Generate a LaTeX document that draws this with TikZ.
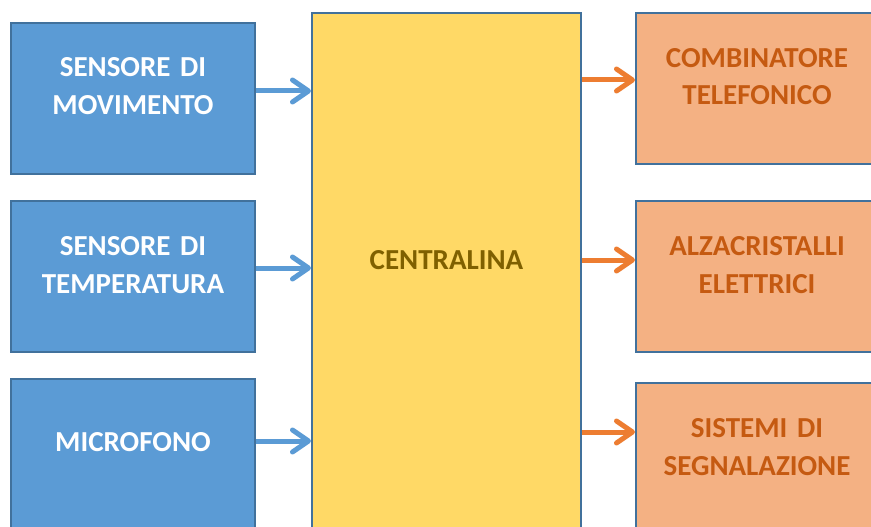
\documentclass[tikz,border=0pt]{standalone}
\usepackage{fontspec}
\setmainfont{Carlito}
\usetikzlibrary{arrows.meta}
\definecolor{inblue}{HTML}{5B9BD5}
\definecolor{edgeblue}{HTML}{41719C}
\definecolor{midyellow}{HTML}{FFD966}
\definecolor{midtext}{HTML}{7F6000}
\definecolor{outorange}{HTML}{F4B183}
\definecolor{outtext}{HTML}{C55A11}
\definecolor{outarrow}{HTML}{ED7D31}
\begin{document}
\begin{tikzpicture}[x=1pt,y=-1pt,font=\fontsize{29}{38}\selectfont\bfseries,
  box/.style={draw=edgeblue,line width=2pt,anchor=north,inner sep=0pt,align=center,text height=54pt,text depth=97pt},
  in node/.style={box,fill=inblue,text=white,text width=244pt},
  out node/.style={box,fill=outorange,text=outtext,text width=242pt},
  mid node/.style={box,fill=midyellow,text=midtext,text width=269pt,text height=256pt,text depth=290pt},
  in arrow/.style={draw=inblue,line width=5pt,-{Straight Barb[round,length=16pt,width=22pt]}},
  out arrow/.style={draw=outarrow,line width=5pt,-{Straight Barb[round,length=16pt,width=22pt]}}]
                    \useasboundingbox[fill=white] (0,0) rectangle (871,527);

                    \node[in node] at (133, 22) (mov) {SENSORE DI\\MOVIMENTO};
                    \node[in node] at (133, 200) (temp) {SENSORE DI\\TEMPERATURA};
                    \node[in node, text height=72pt, text depth=79pt] at (133, 378) (mic) {MICROFONO};
                    \node[mid node] at (446.5, 12) (cen) {CENTRALINA};
                    \node[out node] at (757, 12) (tel) {COMBINATORE\\TELEFONICO};
                    \node[out node] at (757, 200) (alz) {ALZACRISTALLI\\ELETTRICI};
                    \node[out node, text depth=96pt] at (757, 382) (seg) {SISTEMI DI\\SEGNALAZIONE};

                    \draw[in arrow] (mov.east |- 0,91) -- (cen.west |- 0,91);
                    \draw[in arrow] (temp.east |- 0,268) -- (cen.west |- 0,268);
                    \draw[in arrow] (mic.east |- 0,441) -- (cen.west |- 0,441);
                    \draw[out arrow] (cen.east |- 0,80) -- (tel.west |- 0,80);
                    \draw[out arrow] (cen.east |- 0,260) -- (alz.west |- 0,260);
                    \draw[out arrow] (cen.east |- 0,432) -- (seg.west |- 0,432);
                \end{tikzpicture}
\end{document}
